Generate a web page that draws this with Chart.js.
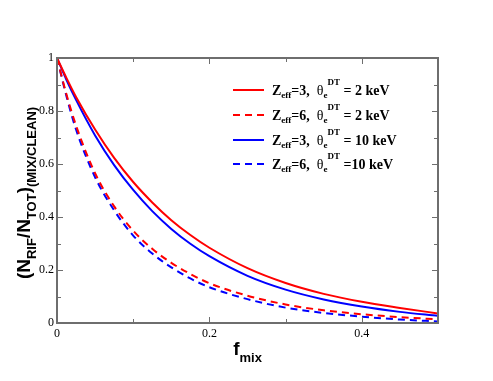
<!DOCTYPE html>
<html lang="en">
<head>
  <meta charset="UTF-8" />
  <title>N_RIF / N_TOT vs f_mix</title>
  <script src="https://cdn.jsdelivr.net/npm/chart.js"></script>
  <style>
    html, body { margin: 0; padding: 0; background: #fff; }
    canvas { display: block; }
  </style>
</head>
<body>
  <canvas id="chart" width="493" height="381"></canvas>

  <script>
    // values
    const fmix     = [0, 0.0125, 0.025, 0.05, 0.075, 0.1, 0.125, 0.15, 0.175, 0.2, 0.25, 0.3, 0.35, 0.4, 0.45, 0.5];
    const z3_2keV  = [1, 0.924, 0.853, 0.73, 0.623, 0.532, 0.455, 0.388, 0.332, 0.284, 0.207, 0.151, 0.11, 0.08, 0.057, 0.036];
    const z6_2keV  = [1, 0.862, 0.745, 0.565, 0.44, 0.348, 0.28, 0.227, 0.185, 0.15, 0.103, 0.07, 0.048, 0.033, 0.022, 0.014];
    const z3_10keV = [1, 0.917, 0.842, 0.708, 0.596, 0.502, 0.422, 0.355, 0.299, 0.252, 0.178, 0.126, 0.089, 0.062, 0.042, 0.027];
    const z6_10keV = [1, 0.855, 0.73, 0.55, 0.425, 0.33, 0.262, 0.21, 0.168, 0.135, 0.09, 0.058, 0.038, 0.024, 0.013, 0.006];

    const zeffVals = ['3', '6', '3', '6'];
    const thetaText = ['= 2 keV', '= 2 keV', '= 10 keV', '=10 keV'];
    const xTickLabels = ['0', '0.2', '0.4'];
    const yTickLabels = ['0', '0.2', '0.4', '0.6', '0.8', '1'];

    const SERIF = '"Liberation Serif", "DejaVu Serif", serif';
    const SANS = '"Liberation Sans", Arial, sans-serif';
    const FRAME = '#6e6e6e';

    function pts(ys) {
      return fmix.map((x, i) => ({ x: x, y: ys[i] }));
    }

    function fmt(v) {
      return String(Math.round(v * 10) / 10);
    }

    // row of text pieces: [text, font, dy]
    function richWidth(ctx, parts) {
      let w = 0;
      parts.forEach(p => { ctx.font = p[1]; w += ctx.measureText(p[0]).width; });
      return w;
    }
    function richText(ctx, parts, x, y) {
      parts.forEach(p => {
        ctx.font = p[1];
        ctx.fillText(p[0], x, y + (p[2] || 0));
        x += ctx.measureText(p[0]).width;
      });
      return x;
    }

    const decor = {
      id: 'decor',
      afterDraw(chart) {
        const ctx = chart.ctx;
        const a = chart.chartArea;
        const xs = chart.scales.x, ys = chart.scales.y;
        ctx.save();

        // inward ticks on all four sides
        ctx.strokeStyle = FRAME;
        ctx.lineWidth = 1;
        ctx.beginPath();
        xs.ticks.forEach(t => {
          const px = Math.round(xs.getPixelForValue(t.value)) + 0.5;
          const len = xTickLabels.includes(fmt(t.value)) ? 6 : 4;
          ctx.moveTo(px, a.bottom); ctx.lineTo(px, a.bottom - len);
          ctx.moveTo(px, a.top); ctx.lineTo(px, a.top + len);
        });
        ys.ticks.forEach(t => {
          const py = Math.round(ys.getPixelForValue(t.value)) + 0.5;
          const len = yTickLabels.includes(fmt(t.value)) ? 6 : 4;
          ctx.moveTo(a.left, py); ctx.lineTo(a.left + len, py);
          ctx.moveTo(a.right, py); ctx.lineTo(a.right - len, py);
        });
        ctx.stroke();

        // frame
        ctx.lineWidth = 2;
        ctx.strokeRect(a.left, a.top, a.right - a.left, a.bottom - a.top);

        ctx.fillStyle = '#000';
        ctx.textBaseline = 'alphabetic';

        // x title
        const xt = [['f', 'bold 19px ' + SANS, 0], ['mix', 'bold 13px ' + SANS, 7]];
        const xw = richWidth(ctx, xt);
        richText(ctx, xt, (a.left + a.right) / 2 - xw / 2, 355);

        // y title, rotated
        const yt = [
          ['(N', 'bold 19px ' + SANS, 0], ['RIF', 'bold 13px ' + SANS, 6],
          ['/N', 'bold 19px ' + SANS, 0], ['TOT', 'bold 13px ' + SANS, 6],
          [')', 'bold 19px ' + SANS, 0], ['(MIX/CLEAN)', 'bold 13px ' + SANS, 6]
        ];
        const yw = richWidth(ctx, yt);
        ctx.save();
        ctx.translate(30, 193);
        ctx.rotate(-Math.PI / 2);
        richText(ctx, yt, -yw / 2, 0);
        ctx.restore();

        // legend
        const rows = [90, 115, 140, 164];
        chart.data.datasets.forEach((ds, i) => {
          const y = rows[i];
          ctx.strokeStyle = ds.borderColor;
          ctx.lineWidth = 2;
          ctx.setLineDash(ds.borderDash || []);
          ctx.beginPath();
          ctx.moveTo(233, y); ctx.lineTo(264, y);
          ctx.stroke();
          ctx.setLineDash([]);
          const parts = [
            ['Z', 'bold 14px ' + SERIF, 0], ['eff', 'bold 9px ' + SERIF, 3],
            ['=' + zeffVals[i] + ',  ', 'bold 14px ' + SERIF, 0],
            ['\u03b8', '14px ' + SERIF, 0], ['e', 'bold 9px ' + SERIF, 3],
            ['DT', 'bold 9px ' + SERIF, -10],
            [' ' + thetaText[i], 'bold 14px ' + SERIF, 0]
          ];
          richText(ctx, parts, 272, y + 5);
        });

        ctx.restore();
      }
    };

    new Chart(document.getElementById('chart'), {
      type: 'line',
      data: {
        datasets: [
          { label: 'Zeff=3, 2 keV', data: pts(z3_2keV), borderColor: '#ff0000' },
          { label: 'Zeff=6, 2 keV', data: pts(z6_2keV), borderColor: '#ff0000', borderDash: [7, 5] },
          { label: 'Zeff=3, 10 keV', data: pts(z3_10keV), borderColor: '#0000ff' },
          { label: 'Zeff=6, 10 keV', data: pts(z6_10keV), borderColor: '#0000ff', borderDash: [7, 5] }
        ]
      },
      options: {
        responsive: false,
        animation: false,
        layout: { padding: { left: 0, top: 58, right: 55, bottom: 0 } },
        elements: {
          point: { radius: 0 },
          line: { borderWidth: 2, cubicInterpolationMode: 'monotone', fill: false }
        },
        plugins: { legend: { display: false }, tooltip: { enabled: false } },
        scales: {
          x: {
            type: 'linear', min: 0, max: 0.5,
            grid: { display: false, drawTicks: false }, border: { display: false },
            afterFit: s => { s.height = 58; },
            ticks: {
              stepSize: 0.1, autoSkip: false, maxRotation: 0, padding: 4,
              color: '#000', font: { family: SERIF, size: 12 },
              callback: v => xTickLabels.includes(fmt(v)) ? fmt(v) : ''
            }
          },
          y: {
            type: 'linear', min: 0, max: 1,
            grid: { display: false, drawTicks: false }, border: { display: false },
            afterFit: s => { s.width = 57; },
            ticks: {
              stepSize: 0.1, autoSkip: false, padding: 3,
              color: '#000', font: { family: SERIF, size: 12 },
              callback: v => yTickLabels.includes(fmt(v)) ? fmt(v) : ''
            }
          }
        }
      },
      plugins: [decor]
    });
  </script>
</body>
</html>
